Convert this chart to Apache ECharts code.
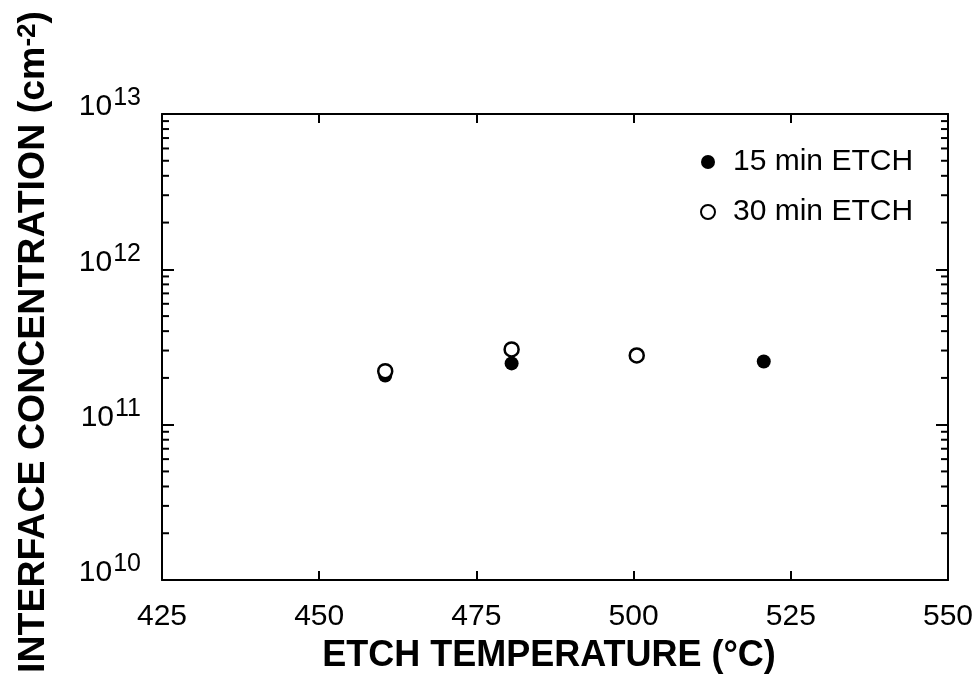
<!DOCTYPE html>
<html>
<head>
<meta charset="utf-8">
<script src="https://cdn.jsdelivr.net/npm/echarts@6/dist/echarts.min.js"></script>
<style>html,body{margin:0;padding:0;background:#fff;}#c{width:980px;height:691px;}</style>
</head>
<body>
<div id="c"></div>
<script>
// Data
const etch15Temp = [460.5, 480.6, 520.7];
const etch15Conc = [2.07e11, 2.48e11, 2.55e11];
const etch30Temp = [460.5, 480.6, 500.5];
const etch30Conc = [2.21e11, 3.05e11, 2.79e11];
const xTicks = [425, 450, 475, 500, 525, 550];
const yDecades = [1e10, 1e11, 1e12, 1e13];
const minorMultipliers = [2, 3, 4, 5, 6, 7, 8, 9];

const minorTickValues = [];
yDecades.slice(0, -1).forEach(d => minorMultipliers.forEach(m => minorTickValues.push([m * d])));

const FONT = '"Liberation Sans", Arial, Helvetica, sans-serif';
const chart = echarts.init(document.getElementById('c'));

const option = {
  backgroundColor: '#fff',
  animation: false,
  grid: { left: 162, right: 32, top: 114, bottom: 111 },
  legend: {
    orient: 'vertical',
    left: 695, top: 142,
    itemWidth: 14, itemHeight: 14, itemGap: 20,
    icon: 'circle',
    data: ['15 min ETCH', '30 min ETCH'],
    textStyle: { fontFamily: FONT, fontSize: 30, color: '#000', padding: [0, 0, 0, 13] }
  },
  xAxis: [{
    type: 'value', min: 425, max: 550, interval: 25,
    axisLine: { lineStyle: { color: '#000', width: 2 } },
    axisTick: { inside: true, length: 9, lineStyle: { color: '#000', width: 2 } },
    axisLabel: { margin: 22, fontFamily: FONT, fontSize: 30, color: '#000',
      formatter: v => xTicks.includes(v) ? String(v) : '' },
    splitLine: { show: false },
    name: 'ETCH TEMPERATURE (°C)', nameLocation: 'middle', nameGap: 58,
    nameTextStyle: { fontFamily: FONT, fontSize: 36, fontWeight: 'bold', color: '#000', padding: [0, 12, 0, 0] }
  }, {
    type: 'value', min: 425, max: 550, interval: 25, position: 'top',
    axisLine: { show: true, lineStyle: { color: '#000', width: 2 } },
    axisTick: { inside: true, length: 9, lineStyle: { color: '#000', width: 2 } },
    axisLabel: { show: false }, splitLine: { show: false }
  }],
  yAxis: [{
    type: 'log', logBase: 10, min: 1e10, max: 1e13,
    axisLine: { show: true, lineStyle: { color: '#000', width: 2 } },
    axisTick: { inside: true, length: 12, lineStyle: { color: '#000', width: 2 } },
    axisLabel: {
      margin: 21, color: '#000', padding: [0, 0, 14, 0],
      formatter: v => '{b|10}{s|' + Math.round(Math.log10(v)) + '}',
      rich: {
        b: { fontFamily: FONT, fontSize: 30, lineHeight: 30, color: '#000', verticalAlign: 'bottom' },
        s: { fontFamily: FONT, fontSize: 25, lineHeight: 1, color: '#000', verticalAlign: 'bottom', padding: [0, 0, 11, 1] }
      }
    },
    splitLine: { show: false },
    name: '{t|INTERFACE CONCENTRATION (cm}{u|-2}{t|)}', nameLocation: 'middle', nameGap: 109, nameRotate: 90,
    nameTextStyle: {
      padding: [0, 0, 0, 10],
      rich: {
        t: { fontFamily: FONT, fontSize: 37.5, fontWeight: 'bold', color: '#000' },
        u: { fontFamily: FONT, fontSize: 26, fontWeight: 'bold', color: '#000', verticalAlign: 'top', padding: [0, 0, 12, 0] }
      }
    }
  }, {
    type: 'log', logBase: 10, min: 1e10, max: 1e13, position: 'right',
    axisLine: { show: true, lineStyle: { color: '#000', width: 2 } },
    axisTick: { inside: true, length: 12, lineStyle: { color: '#000', width: 2 } },
    axisLabel: { show: false }, splitLine: { show: false }
  }],
  series: [{
    type: 'custom', name: 'minor', silent: true, clip: false,
    xAxisIndex: 0, yAxisIndex: 0,
    data: minorTickValues,
    renderItem: function (params, api) {
      const cs = params.coordSys;
      const y = api.coord([425, api.value(0)])[1];
      const len = 7;
      return { type: 'group', children: [
        { type: 'line', shape: { x1: cs.x, y1: y, x2: cs.x + len, y2: y }, style: { stroke: '#000', lineWidth: 2 } },
        { type: 'line', shape: { x1: cs.x + cs.width, y1: y, x2: cs.x + cs.width - len, y2: y }, style: { stroke: '#000', lineWidth: 2 } }
      ]};
    }
  }, {
    type: 'scatter', name: '15 min ETCH', symbol: 'circle', symbolSize: 14,
    itemStyle: { color: '#000', opacity: 1 },
    data: etch15Temp.map((t, i) => [t, etch15Conc[i]]), z: 3
  }, {
    type: 'scatter', name: '30 min ETCH', symbol: 'circle', symbolSize: 14,
    itemStyle: { color: '#fff', borderColor: '#000', borderWidth: 2.5, opacity: 1 },
    data: etch30Temp.map((t, i) => [t, etch30Conc[i]]), z: 4
  }]
};
chart.setOption(option);
</script>
</body>
</html>
